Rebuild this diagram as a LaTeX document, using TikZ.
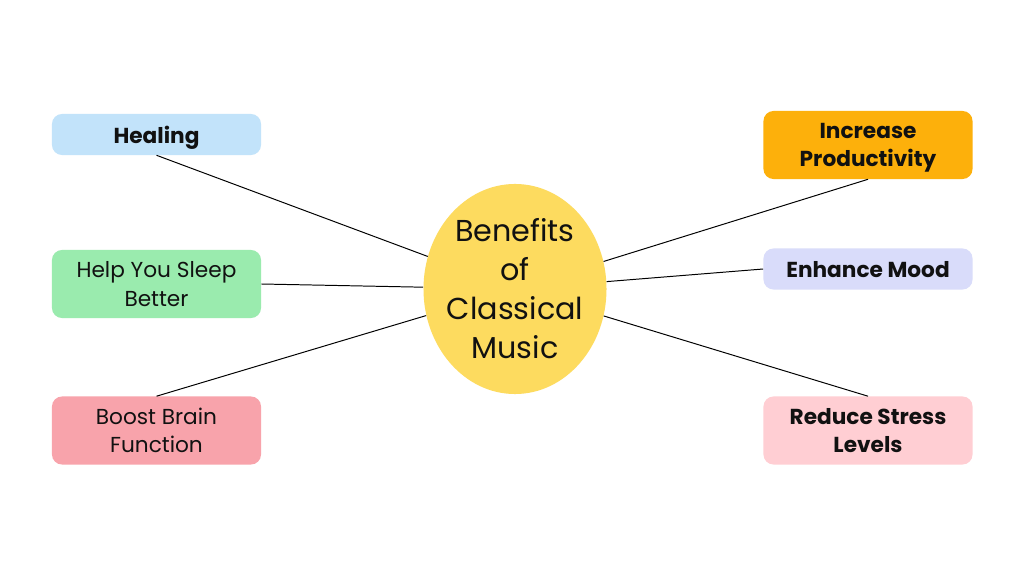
\documentclass[tikz,border=0pt]{standalone}
\usepackage{fontspec}
\setmainfont{Poppins}
\usepackage{xcolor}
\usetikzlibrary{positioning,shapes.geometric}

\definecolor{healblue}{HTML}{C2E3FA}
\definecolor{sleepgreen}{HTML}{9AEBAE}
\definecolor{brainred}{HTML}{F8A3AB}
\definecolor{prodorange}{HTML}{FDB00B}
\definecolor{moodlilac}{HTML}{D9DCFA}
\definecolor{stresspink}{HTML}{FFCED3}
\definecolor{hubyellow}{HTML}{FDDB5F}
\definecolor{inkblack}{HTML}{111111}

\begin{document}
\begin{tikzpicture}[
        x=0.025cm, y=-0.025cm,
        text=inkblack,
        benefit/.style={rounded corners=0.25cm, minimum width=5.225cm,
                        minimum height=1.025cm, inner sep=2pt, align=center,
                        text depth=0pt, font=\fontsize{15.4}{20}\selectfont},
        tall/.style={minimum height=1.7cm},
        strong/.style={font=\fontsize{15.4}{20}\selectfont\bfseries},
        hub/.style={ellipse, fill=hubyellow, minimum width=4.55cm,
                    minimum height=5.25cm, inner xsep=-2.5pt, inner ysep=0pt,
                    align=center, font=\fontsize{21.5}{27.7}\selectfont},
        spoke/.style={draw=black, line width=0.7pt}
    ]
    \useasboundingbox[fill=white] (0,0) rectangle (1024,576);

    % ---- Centre ----
    \node[hub] (hub) at (515,289) {Benefits\\of\\Classical\\Music};

    % ---- Left side ----
    \node[benefit, strong, fill=healblue] (healing) at (156.5,134.5) {Healing};
    \node[benefit, tall, fill=sleepgreen] (sleep) at (156.5,284) {Help You Sleep\\Better};
    \node[benefit, tall, fill=brainred] (brain) at (156.5,430.5) {Boost Brain\\Function};

    % ---- Right side ----
    \node[benefit, tall, strong, fill=prodorange] (prod) at (868,145) {Increase\\Productivity};
    \node[benefit, strong, fill=moodlilac] (mood) at (868,269) {Enhance Mood};
    \node[benefit, tall, strong, fill=stresspink] (stress) at (868,430.5) {Reduce Stress\\Levels};

    % ---- Spokes ----
    \draw[spoke] (hub) -- (healing.south);
    \draw[spoke] (hub) -- (sleep.east);
    \draw[spoke] (hub) -- (brain.north);
    \draw[spoke] (hub) -- (prod.south);
    \draw[spoke] (hub) -- (mood.west);
    \draw[spoke] (hub) -- (stress.north);
\end{tikzpicture}
\end{document}
